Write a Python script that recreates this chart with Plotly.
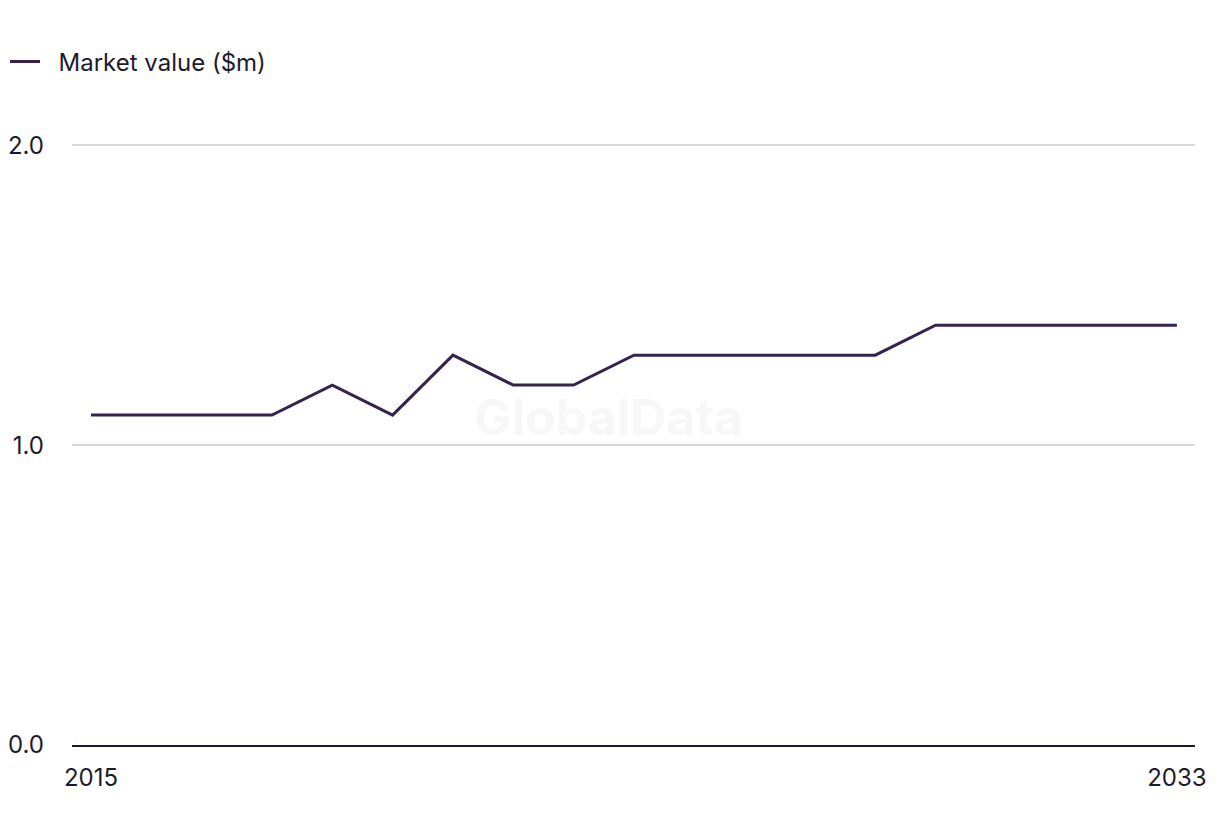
import plotly.graph_objects as go

years = list(range(2015, 2034))
market_value = [1.1, 1.1, 1.1, 1.1, 1.2, 1.1, 1.3, 1.2, 1.2, 1.3,
                1.3, 1.3, 1.3, 1.3, 1.4, 1.4, 1.4, 1.4, 1.4]
series_name = "Market value ($m)"
y_ticks = [0.0, 1.0, 2.0]
y_tick_labels = ["0.0", "1.0", "2.0"]
x_ticks = [2015, 2033]

line_color = "#36224f"
text_color = "#1c1b2e"
font_family = "Inter, Liberation Sans, Arial, sans-serif"

fig = go.Figure()
fig.add_trace(go.Scatter(
    x=years, y=market_value, mode="lines", name="\u00a0\u00a0" + series_name,
    line=dict(color=line_color, width=3),
))

fig.add_annotation(
    text="GlobalData", x=0.478, y=0.545, xref="paper", yref="paper",
    showarrow=False, font=dict(family=font_family, size=50, color="#f7f7f7", weight="bold"),
)

fig.update_layout(
    width=1220, height=836,
    margin=dict(l=72, r=25, t=144, b=91),
    paper_bgcolor="white", plot_bgcolor="white",
    font=dict(family=font_family, size=24, color=text_color),
    showlegend=True,
    legend=dict(
        xref="container", yref="container", x=5 / 1220, y=0.953,
        xanchor="left", yanchor="top", orientation="h",
        font=dict(size=24, color=text_color), itemwidth=30,
    ),
    xaxis=dict(
        range=[2014.685, 2033.3], tickvals=x_ticks, ticktext=[str(v) for v in x_ticks],
        showgrid=False, zeroline=False, showline=True, linecolor="#1a1a2e", linewidth=2,
        ticks="outside", ticklen=10, tickcolor="rgba(0,0,0,0)",
        tickfont=dict(size=24, color=text_color), automargin=False,
    ),
    yaxis=dict(
        range=[0, 2.004], tickvals=y_ticks, ticktext=y_tick_labels,
        showgrid=True, gridcolor="#d9d9dd", gridwidth=1.5, zeroline=False, showline=False,
        ticks="", ticklabelstandoff=27, automargin=False,
        tickfont=dict(size=24, color=text_color),
    ),
)

fig.write_html("out.html")
